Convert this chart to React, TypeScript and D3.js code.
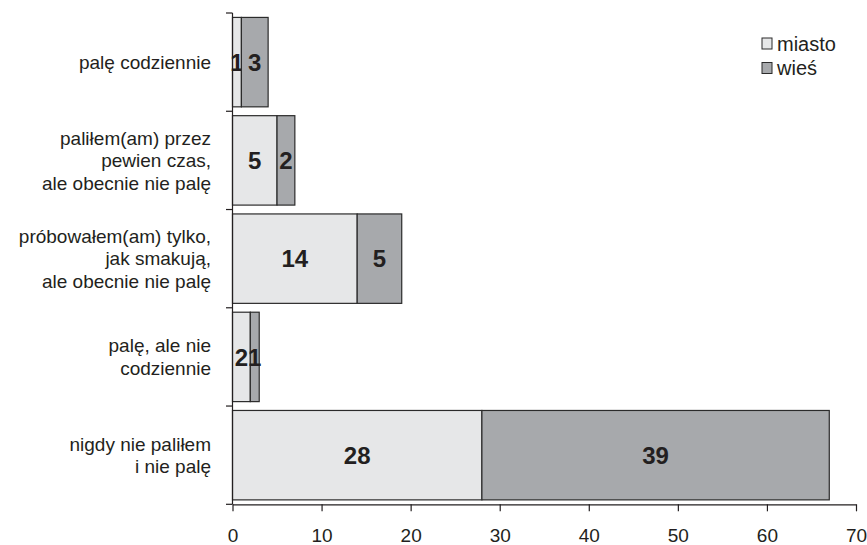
import * as d3 from "d3";
import { useEffect, useRef } from "react";

const W = 867;
const H = 545;
const MARGIN = { top: 13, left: 232.5 };
const PLOT_W = 623.5;
const PLOT_H = 491.3;

const categories = [
  ["palę codziennie"],
  ["paliłem(am) przez", "pewien czas,", "ale obecnie nie palę"],
  ["próbowałem(am) tylko,", "jak smakują,", "ale obecnie nie palę"],
  ["palę, ale nie", "codziennie"],
  ["nigdy nie paliłem", "i nie palę"],
];
const miasto = [1, 5, 14, 2, 28];
const wies = [3, 2, 5, 1, 39];
const seriesNames = ["miasto", "wieś"];
const COLORS = ["#e6e7e8", "#a7a9ac"];
const xTicks = [0, 10, 20, 30, 40, 50, 60, 70];

const FONT = "'Liberation Sans', Arial, sans-serif";
const INK = "#231f20";

const App = () => {
  const svgRef = useRef<SVGSVGElement>(null);

  useEffect(() => {
    document.body.style.margin = "0";
    if (!svgRef.current) return;
    const root = d3.select(svgRef.current);
    root.selectAll("*").remove();

    const svg = root
      .append("g")
      .attr("transform", `translate(${MARGIN.left},${MARGIN.top})`);

    const x = d3.scaleLinear().domain([0, 70]).range([0, PLOT_W]);
    const y = d3
      .scaleBand<number>()
      .domain(d3.range(categories.length))
      .range([0, PLOT_H])
      .paddingInner(0.09)
      .paddingOuter(0.045);

    const step = PLOT_H / categories.length;

    // stacked bars
    categories.forEach((_, i) => {
      const segs = [
        { v0: 0, v1: miasto[i], val: miasto[i], c: COLORS[0] },
        { v0: miasto[i], v1: miasto[i] + wies[i], val: wies[i], c: COLORS[1] },
      ];
      segs.forEach((s) => {
        svg
          .append("rect")
          .attr("x", x(s.v0))
          .attr("y", y(i)!)
          .attr("width", x(s.v1) - x(s.v0))
          .attr("height", y.bandwidth())
          .attr("fill", s.c)
          .attr("stroke", "#2b2b2b")
          .attr("stroke-width", 1.2);
        svg
          .append("text")
          .attr("x", x((s.v0 + s.v1) / 2))
          .attr("y", y(i)! + y.bandwidth() / 2)
          .attr("dy", "0.36em")
          .attr("text-anchor", "middle")
          .attr("font-family", FONT)
          .attr("font-weight", "bold")
          .attr("font-size", 24)
          .attr("fill", INK)
          .text(s.val);
      });
    });

    // y axis
    svg
      .append("line")
      .attr("x1", 0)
      .attr("x2", 0)
      .attr("y1", 0)
      .attr("y2", PLOT_H)
      .attr("stroke", INK)
      .attr("stroke-width", 1.2);
    d3.range(categories.length + 1).forEach((i) => {
      svg
        .append("line")
        .attr("x1", -6.5)
        .attr("x2", 0)
        .attr("y1", i * step)
        .attr("y2", i * step)
        .attr("stroke", INK)
        .attr("stroke-width", 1.2);
    });

    // category labels
    categories.forEach((lines, i) => {
      const cy = y(i)! + y.bandwidth() / 2;
      const lh = 22.5;
      const t = svg
        .append("text")
        .attr("text-anchor", "end")
        .attr("font-family", FONT)
        .attr("font-size", 19)
        .attr("fill", INK);
      lines.forEach((ln, k) => {
        t.append("tspan")
          .attr("x", -21.5)
          .attr("y", cy + (k - (lines.length - 1) / 2) * lh)
          .attr("dy", "0.35em")
          .text(ln);
      });
    });

    // x axis
    const xAxis = svg
      .append("g")
      .attr("transform", `translate(0,${PLOT_H})`)
      .call(
        d3
          .axisBottom(x)
          .tickValues(xTicks)
          .tickSize(7)
          .tickSizeOuter(0)
          .tickPadding(17)
      );
    xAxis.select(".domain").attr("stroke", INK).attr("stroke-width", 1.2);
    xAxis.selectAll(".tick line").attr("stroke", INK).attr("stroke-width", 1.2);
    xAxis
      .selectAll(".tick text")
      .attr("font-family", FONT)
      .attr("font-size", 19)
      .attr("fill", INK);

    // legend
    const lg = root.append("g").attr("transform", "translate(762,38)");
    seriesNames.forEach((name, i) => {
      lg.append("rect")
        .attr("x", 0)
        .attr("y", i * 24.5)
        .attr("width", 10)
        .attr("height", 11)
        .attr("fill", COLORS[i])
        .attr("stroke", "#2b2b2b")
        .attr("stroke-width", 1);
      lg.append("text")
        .attr("x", 15)
        .attr("y", i * 24.5 + 5.5)
        .attr("dy", "0.35em")
        .attr("font-family", FONT)
        .attr("font-size", 20)
        .attr("fill", INK)
        .text(name);
    });
  }, []);

  return <svg ref={svgRef} width={W} height={H} style={{ display: "block" }} />;
};

export default App;
